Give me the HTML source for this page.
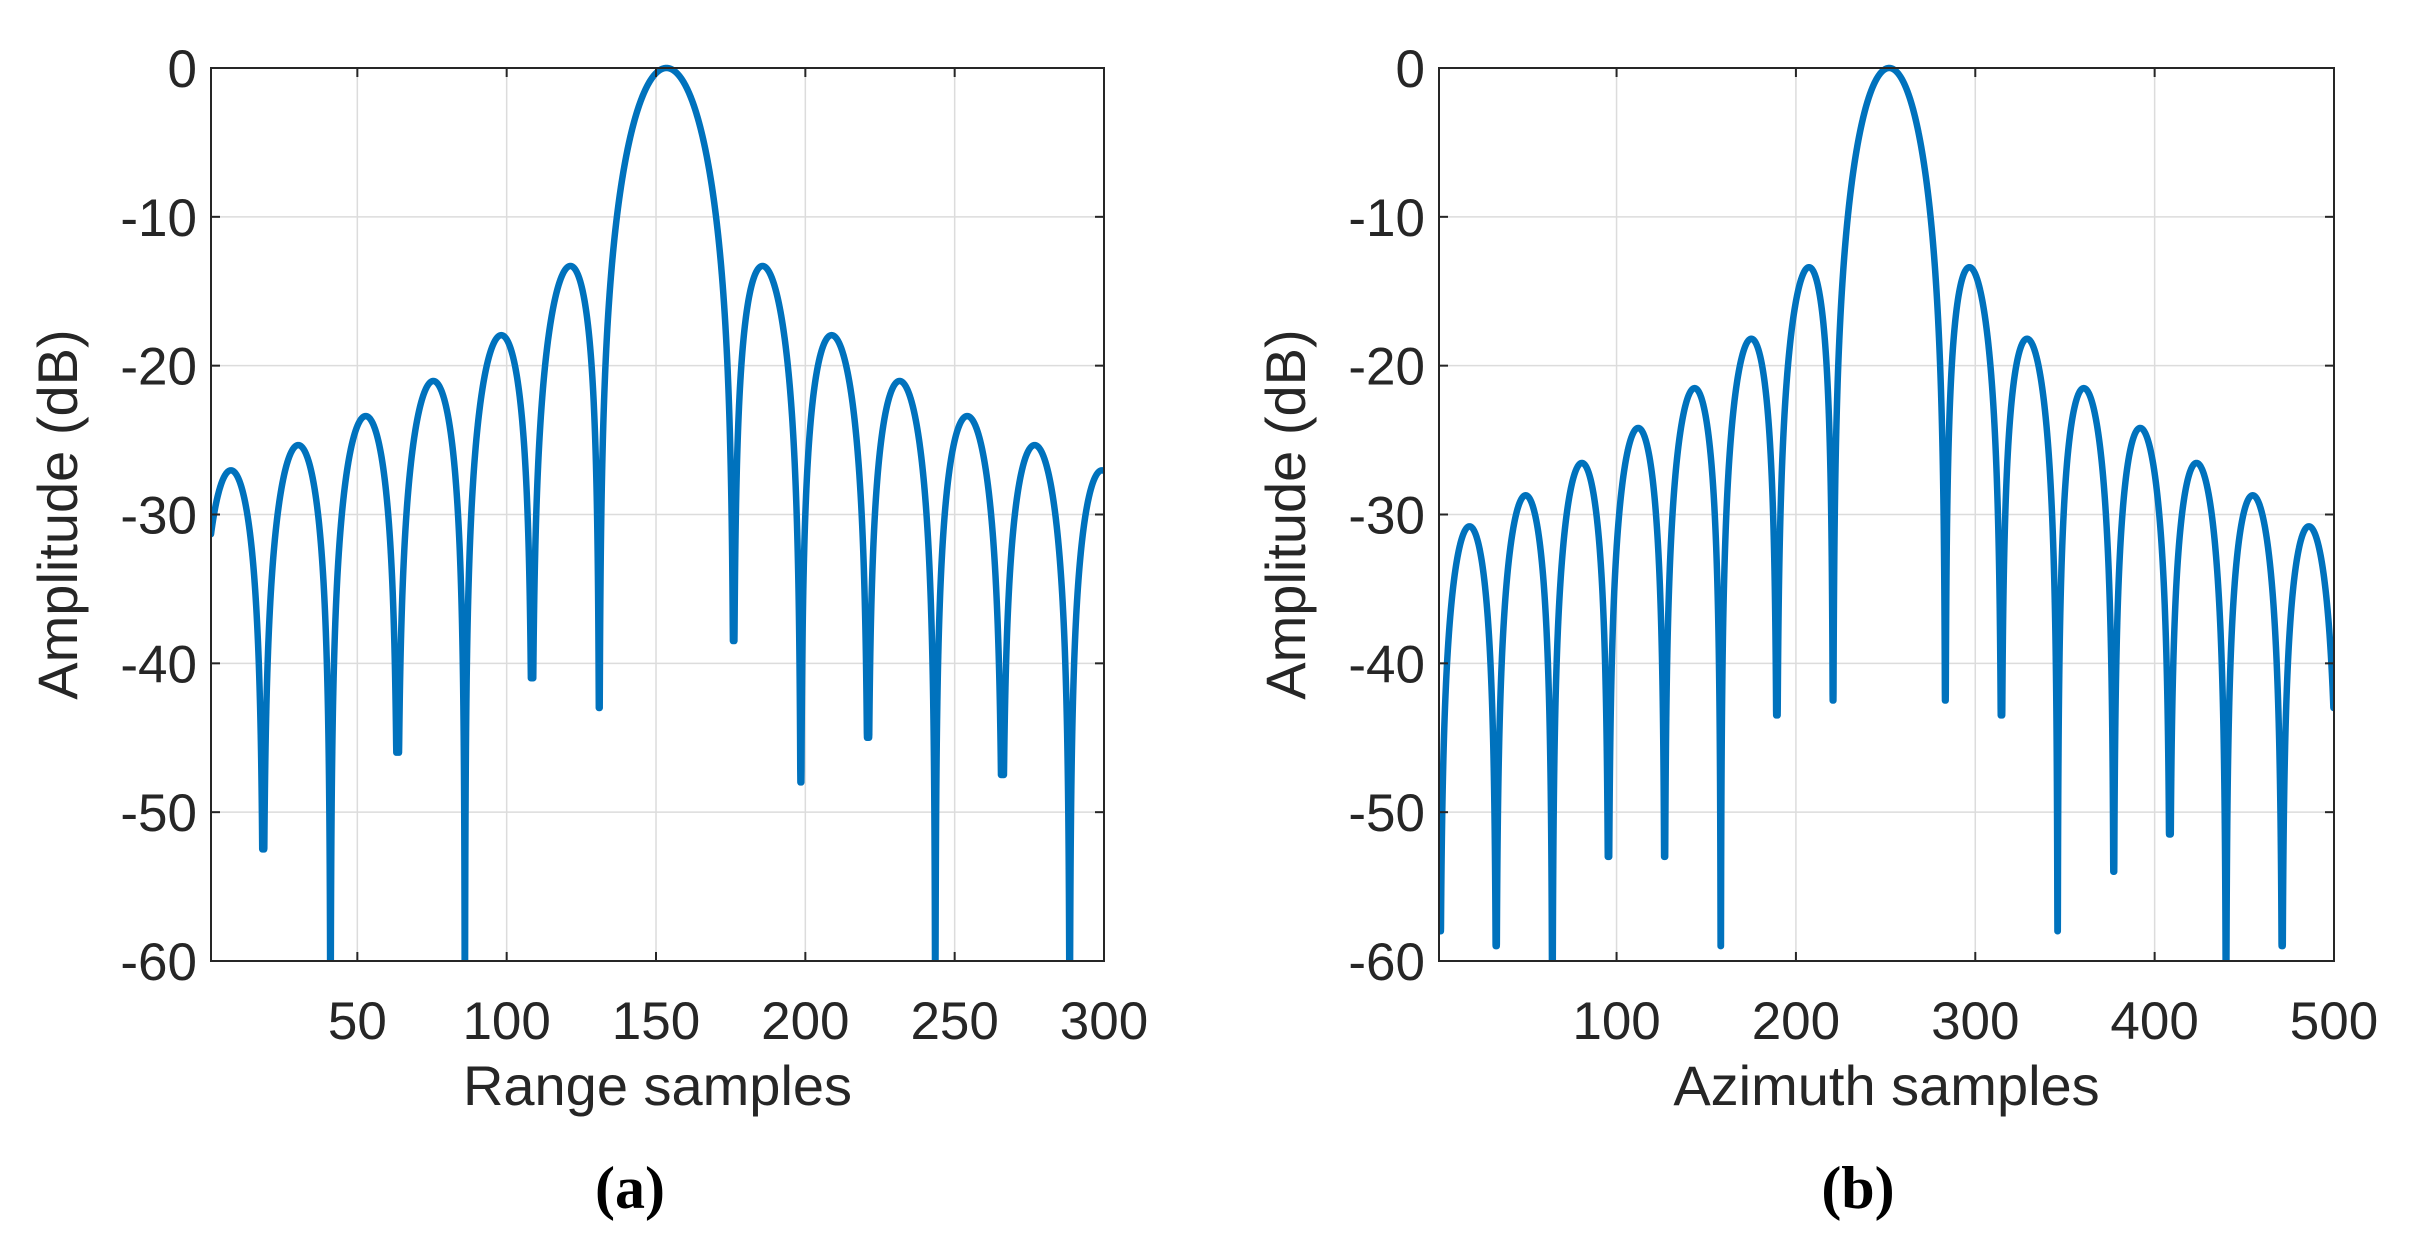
<!DOCTYPE html>
<html><head><meta charset="utf-8">
<style>
html,body{margin:0;padding:0;background:#fff;}
svg{display:block;}
text{font-family:"Liberation Sans",sans-serif;fill:#262626;}
.cap{font-family:"Liberation Serif",serif;font-weight:bold;fill:#000;}
</style></head><body>
<svg id="s" width="2419" height="1248" xmlns="http://www.w3.org/2000/svg"></svg>
<script>
const S=document.getElementById('s');
let out='';
function panel(L,R,T,B,xmin,xmax,ticks,xlabel,N,c,w,taper,depths,cap,capx){
  const sx=x=>L+(x-xmin)/(xmax-xmin)*(R-L);
  const sy=y=>T+(-y)/60*(B-T);
  out+=`<defs><clipPath id="c${cap}"><rect x="${L}" y="${T-5}" width="${R-L}" height="${B-T+5}"/></clipPath></defs>`;
  for(const t of ticks){const x=sx(t);out+=`<line x1="${x}" y1="${T}" x2="${x}" y2="${B}" stroke="#dcdcdc" stroke-width="1.5"/>`;}
  for(let v=-50;v<0;v+=10){const y=sy(v);out+=`<line x1="${L}" y1="${y}" x2="${R}" y2="${y}" stroke="#dcdcdc" stroke-width="1.5"/>`;}
  let d='';let first=true;
  for(let n=1;n<=N+1e-9;n+=0.05){
    const u=(n-c)/w;let a=Math.abs(u)<1e-9?1:Math.sin(Math.PI*u)/(Math.PI*u);
    let db=20*Math.log10(Math.max(Math.abs(a),1e-6))-taper*u*u;
    let k=Math.round(u);
    if(k!==0&&depths[k]!==undefined) db=Math.max(db,depths[k]);
    if(db<-62)db=-62;
    d+=(first?'M':'L')+sx(n).toFixed(2)+' '+sy(db).toFixed(2);first=false;
  }
  out+=`<path d="${d}" fill="none" stroke="#0072BD" stroke-width="6.5" stroke-linejoin="round" stroke-linecap="round" clip-path="url(#c${cap})"/>`;
  out+=`<rect x="${L}" y="${T}" width="${R-L}" height="${B-T}" fill="none" stroke="#262626" stroke-width="2"/>`;
  for(const t of ticks){const x=sx(t);out+=`<line x1="${x}" y1="${B}" x2="${x}" y2="${B-9}" stroke="#262626" stroke-width="2"/><line x1="${x}" y1="${T}" x2="${x}" y2="${T+9}" stroke="#262626" stroke-width="2"/>`;
    out+=`<text x="${x}" y="${B+78}" font-size="53" text-anchor="middle">${t}</text>`;}
  for(let v=-60;v<=0;v+=10){const y=sy(v);out+=`<line x1="${L}" y1="${y}" x2="${L+9}" y2="${y}" stroke="#262626" stroke-width="2"/><line x1="${R}" y1="${y}" x2="${R-9}" y2="${y}" stroke="#262626" stroke-width="2"/>`;
    out+=`<text x="${L-14}" y="${y+19}" font-size="53" text-anchor="end">${v}</text>`;}
  out+=`<text x="${(L+R)/2}" y="${B+144}" font-size="56" text-anchor="middle">${xlabel}</text>`;
  const yl=L-134;out+=`<text x="${yl}" y="${(T+B)/2}" font-size="56" text-anchor="middle" transform="rotate(-90 ${yl} ${(T+B)/2})">Amplitude (dB)</text>`;
  out+=`<text class="cap" x="${capx}" y="1208" font-size="60" text-anchor="middle">(${cap})</text>`;
}
panel(211,1104,68,961,1,300,[50,100,150,200,250,300],'Range samples',300,153.5,22.5,0.02,
 {'-6':-52.5,'-5':-62,'-4':-46,'-3':-62,'-2':-41,'-1':-43,'1':-38.5,'2':-48,'3':-45,'4':-62,'5':-47.5,'6':-62,'7':-62},'a',630);
panel(1439,2334,68,961,1,500,[100,200,300,400,500],'Azimuth samples',500,252,31.3,0.06,
 {'-8':-58,'-7':-59,'-6':-62,'-5':-53,'-4':-53,'-3':-59,'-2':-43.5,'-1':-42.5,'1':-42.5,'2':-43.5,'3':-58,'4':-54,'5':-51.5,'6':-62,'7':-59,'8':-43},'b',1858);
S.innerHTML=out;
</script>
</body></html>
